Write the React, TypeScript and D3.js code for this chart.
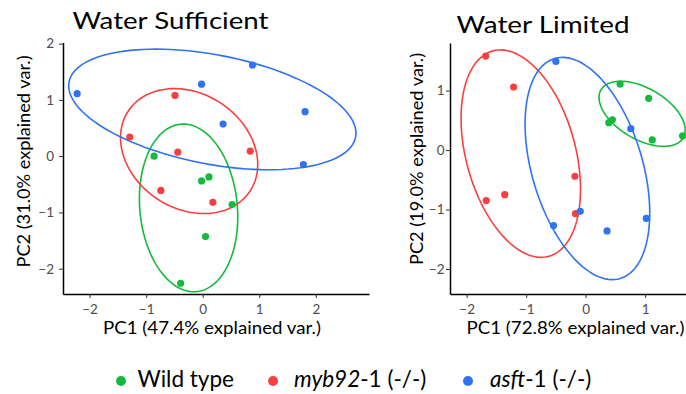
import * as d3 from "d3";
import { useEffect, useRef } from "react";

const W = 686;
const H = 394;

const genotypeItalic = ["", "myb92", "asft"];
const genotypeRest = ["Wild type", "-1 (-/-)", "-1 (-/-)"];
const colors = ["#13BA3C", "#F7403F", "#2F73F2"];

// Water sufficient: PCA scores per genotype
const wsWildPC1 = [-0.86, -0.02, 0.11, 0.52, 0.05, -0.39];
const wsWildPC2 = [0.0, -0.44, -0.37, -0.86, -1.43, -2.26];
const wsMybPC1 = [-0.49, -1.29, -0.44, 0.84, -0.74, 0.18];
const wsMybPC2 = [1.08, 0.34, 0.07, 0.09, -0.61, -0.82];
const wsAsftPC1 = [-2.22, -0.02, 0.88, 0.36, 1.81, 1.78];
const wsAsftPC2 = [1.11, 1.28, 1.62, 0.57, 0.79, -0.15];

// Water limited
const wlWildPC1 = [0.58, 1.06, 0.39, 0.45, 1.12, 1.63];
const wlWildPC2 = [1.11, 0.87, 0.46, 0.51, 0.17, 0.24];
const wlMybPC1 = [-1.68, -1.21, -1.67, -1.36, -0.18, -0.17];
const wlMybPC2 = [1.58, 1.06, -0.85, -0.75, -0.44, -1.07];
const wlAsftPC1 = [-0.5, -0.09, -0.54, 0.36, 1.02, 0.76];
const wlAsftPC2 = [1.49, -1.03, -1.27, -1.36, -1.15, 0.36];

// ellipses: centre PC1, centre PC2, semi-major, semi-minor, angle (deg)
const wsEllipses = [
  [-0.25, -0.92, 1.495, 0.862, 95.4],
  [-0.24, 0.09, 1.29, 1.02, -33.8],
  [0.17, 0.83, 2.58, 0.97, -11],
];
const wlEllipses = [
  [0.95, 0.61, 0.8, 0.43, -30.2],
  [-1.09, -0.06, 1.79, 0.92, -74.8],
  [0.03, -0.31, 1.93, 0.93, -73.4],
];

const panels = [
  {
    title: "Water Sufficient",
    xLab: "PC1 (47.4% explained var.)",
    yLab: "PC2 (31.0% explained var.)",
    pc1: [wsWildPC1, wsMybPC1, wsAsftPC1],
    pc2: [wsWildPC2, wsMybPC2, wsAsftPC2],
    ellipses: wsEllipses,
    xDomain: [-2.47, 2.94],
    yDomain: [-2.45, 2.02],
    ticks: [-2, -1, 0, 1, 2],
    left: 63, right: 369, top: 42.5, bottom: 294,
    titleX: 72.5, titleY: 28.5, titleW: 196,
    yPad: 5, xLabX: 212, yLabY: 161.5, yLabX: 30,
  },
  {
    title: "Water Limited",
    xLab: "PC1 (72.8% explained var.)",
    yLab: "PC2 (19.0% explained var.)",
    pc1: [wlWildPC1, wlMybPC1, wlAsftPC1],
    pc2: [wlWildPC2, wlMybPC2, wlAsftPC2],
    ellipses: wlEllipses,
    xDomain: [-2.28, 1.94],
    yDomain: [-2.42, 1.8],
    ticks: [-2, -1, 0, 1],
    left: 450, right: 701, top: 43, bottom: 294,
    titleX: 456.5, titleY: 32.5, titleW: 173,
    yPad: 1.5, xLabX: 575.5, yLabY: 159, yLabX: 423,
  },
];

const legendDotX = [121, 273, 468];
const legendTextGap = [16.5, 21, 22];

const App = () => {
  const ref = useRef(null);

  useEffect(() => {
    const svg = d3.select(ref.current);
    svg.selectAll("*").remove();
    svg.append("rect").attr("width", W).attr("height", H).attr("fill", "white");

    const line = d3
      .line()
      .x((d) => d[0])
      .y((d) => d[1])
      .curve(d3.curveLinearClosed);

    panels.forEach((p) => {
      const x = d3.scaleLinear().domain(p.xDomain).range([p.left, p.right]);
      const y = d3.scaleLinear().domain(p.yDomain).range([p.bottom, p.top]);
      const g = svg.append("g").attr("font-family", "Lato");

      g.append("text")
        .attr("x", p.titleX)
        .attr("y", p.titleY)
        .attr("font-size", 24)
        .attr("textLength", p.titleW)
        .attr("lengthAdjust", "spacingAndGlyphs")
        .attr("fill", "#000")
        .text(p.title);

      // confidence ellipses
      p.ellipses.forEach(([cx, cy, a, b, deg], i) => {
        const r = (deg * Math.PI) / 180;
        const pts = d3.range(120).map((k) => {
          const t = (k / 120) * 2 * Math.PI;
          const u = a * Math.cos(t);
          const v = b * Math.sin(t);
          return [
            x(cx + u * Math.cos(r) - v * Math.sin(r)),
            y(cy + u * Math.sin(r) + v * Math.cos(r)),
          ];
        });
        g.append("path")
          .attr("d", line(pts))
          .attr("fill", "none")
          .attr("stroke", colors[i])
          .attr("stroke-width", 1.6);
      });

      // points
      p.pc1.forEach((xs, i) => {
        g.append("g")
          .selectAll("circle")
          .data(xs.map((v, k) => [v, p.pc2[i][k]]))
          .join("circle")
          .attr("cx", (d) => x(d[0]))
          .attr("cy", (d) => y(d[1]))
          .attr("r", 3.6)
          .attr("fill", colors[i]);
      });

      const xAxis = g
        .append("g")
        .attr("transform", `translate(0,${p.bottom})`)
        .call(
          d3.axisBottom(x).tickValues(p.ticks).tickSize(4).tickSizeOuter(0).tickPadding(6.5).tickFormat(d3.format("d"))
        );
      const yAxis = g
        .append("g")
        .attr("transform", `translate(${p.left},0)`)
        .call(
          d3.axisLeft(y).tickValues(p.ticks).tickSize(4).tickSizeOuter(0).tickPadding(p.yPad).tickFormat(d3.format("d"))
        );
      [xAxis, yAxis].forEach((ax) => {
        ax.select(".domain").attr("stroke", "#000").attr("stroke-width", 1.5);
        ax.selectAll(".tick line").attr("stroke", "#333").attr("stroke-width", 1);
        ax.selectAll(".tick text")
          .attr("fill", "#4D4D4D")
          .attr("font-size", 13.5)
          .attr("font-family", "Lato");
      });

      g.append("text")
        .attr("x", p.xLabX)
        .attr("y", 333.7)
        .attr("text-anchor", "middle")
        .attr("font-size", 18)
        .attr("textLength", 218)
        .attr("lengthAdjust", "spacingAndGlyphs")
        .text(p.xLab);
      g.append("text")
        .attr("transform", `translate(${p.yLabX},${p.yLabY}) rotate(-90)`)
        .attr("text-anchor", "middle")
        .attr("font-size", 18)
        .attr("textLength", 212)
        .attr("lengthAdjust", "spacingAndGlyphs")
        .text(p.yLab);
    });

    // legend
    const leg = svg.append("g").attr("font-family", "Lato").attr("font-size", 22.5);
    colors.forEach((c, i) => {
      leg.append("circle").attr("cx", legendDotX[i]).attr("cy", 381).attr("r", 5).attr("fill", c);
      const t = leg.append("text").attr("x", legendDotX[i] + legendTextGap[i]).attr("y", 386.7);
      if (genotypeItalic[i]) t.append("tspan").attr("font-style", "italic").text(genotypeItalic[i]);
      t.append("tspan").text(genotypeRest[i]);
    });
  });

  return (
    <svg
      ref={ref}
      width={W}
      height={H}
      style={{ position: "absolute", left: 0, top: 0 }}
    />
  );
};

export default App;
